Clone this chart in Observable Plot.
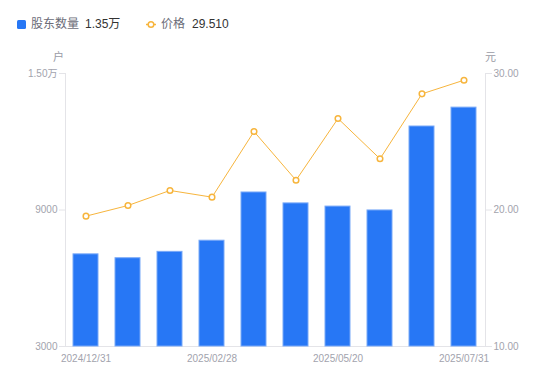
<!DOCTYPE html>
<html>
<head>
<meta charset="utf-8">
<script src="https://cdn.jsdelivr.net/npm/d3@7"></script>
<script src="https://cdn.jsdelivr.net/npm/@observablehq/plot@0.6"></script>
<style>
  html, body { margin: 0; padding: 0; background: #fff; }
  body { width: 550px; height: 381px; overflow: hidden; font-family: 'Liberation Sans', 'Noto Sans CJK SC', sans-serif; }
  #legend { position: relative; height: 40px; width: 550px; font-size: 12px; }
  #legend span { position: absolute; top: 17px; line-height: 15px; white-space: nowrap; }
  .lab { color: #6b6c78; }
  .val { color: #333; }
</style>
</head>
<body>
<div id="legend"></div>
<div id="chart"></div>
<script>
const dates = ["2024/12/31","2025/01/10","2025/01/20","2025/02/28","2025/03/10","2025/03/31","2025/05/20","2025/06/10","2025/06/30","2025/07/31"];
const holders = [7050, 6880, 7160, 7650, 9770, 9290, 9150, 8980, 12670, 13500];
const prices = [19.55, 20.33, 21.43, 20.94, 25.75, 22.18, 26.70, 23.75, 28.51, 29.51];
const leftTicks = [3000, 9000, 15000];
const rightTicks = [10, 20, 30];
const xTicks = ["2024/12/31", "2025/02/28", "2025/05/20", "2025/07/31"];
const seriesNames = ["股东数量", "价格"];
const units = ["户", "元"];

const blue = "#2777f5";
const orange = "#f7b53d";
const axisText = "#a2a3ad";
const axisLine = "#e4e4e8";

// legend
const legend = document.getElementById("legend");
legend.innerHTML = `
  <svg style="position:absolute;left:0;top:0" width="550" height="40">
    <rect x="17" y="20" width="9" height="9" rx="1.5" fill="${blue}"></rect>
    <line x1="146" x2="156" y1="24.5" y2="24.5" stroke="${orange}" stroke-width="1.5"></line>
    <circle cx="151" cy="24.5" r="2.8" fill="white" stroke="${orange}" stroke-width="1.5"></circle>
  </svg>
  <span class="lab" style="left:31px">${seriesNames[0]}</span>
  <span class="val" style="left:85px">${(holders[holders.length-1]/10000).toFixed(2)}万</span>
  <span class="lab" style="left:161px">${seriesNames[1]}</span>
  <span class="val" style="left:192px">${prices[prices.length-1].toFixed(3)}</span>
`;

const data = dates.map((d, i) => ({date: d, holders: holders[i], price: prices[i]}));
const y0 = leftTicks[0], y1 = leftTicks[leftTicks.length-1];
const p0 = rightTicks[0], p1 = rightTicks[rightTicks.length-1];
const toY = p => y0 + (p - p0) * (y1 - y0) / (p1 - p0);
const fromY = v => p0 + (v - y0) * (p1 - p0) / (y1 - y0);

const chart = Plot.plot({
  width: 550,
  height: 341,
  marginTop: 33,
  marginBottom: 35,
  marginLeft: 65,
  marginRight: 65,
  style: {fontFamily: "'Liberation Sans','Noto Sans CJK SC',sans-serif", fontSize: "10px", background: "white", color: axisText},
  x: {domain: dates, paddingInner: 0.4, paddingOuter: 0.2, axis: null},
  y: {domain: [y0, y1], axis: null},
  marks: [
    Plot.frame({anchor: "left", stroke: axisLine}),
    Plot.frame({anchor: "right", stroke: axisLine}),
    Plot.frame({anchor: "bottom", stroke: axisLine}),
    Plot.axisY(leftTicks, {anchor: "left", tickSize: 6, tickPadding: 2, stroke: axisLine, fill: axisText, label: null,
      tickFormat: d => d >= 10000 ? (d / 10000).toFixed(2) + "万" : String(d)}),
    Plot.axisY(rightTicks.map(toY), {anchor: "right", tickSize: 6, tickPadding: 2, stroke: axisLine, fill: axisText, label: null,
      tickFormat: d => fromY(d).toFixed(2)}),
    Plot.axisX(xTicks, {anchor: "bottom", tickSize: 0, tickPadding: 8, fill: axisText, label: null}),
    Plot.barY(data, {x: "date", y1: () => y0, y2: "holders", fill: blue, stroke: "#79a9f8", strokeWidth: 1}),
    Plot.line(data, {x: "date", y: d => toY(d.price), stroke: orange, strokeWidth: 1}),
    Plot.dot(data, {x: "date", y: d => toY(d.price), r: 2.8, fill: "white", stroke: orange, strokeWidth: 1.5}),
    Plot.text([units[0]], {frameAnchor: "top-left", text: d => d, textAnchor: "middle", lineAnchor: "middle", dx: -7, dy: -16, fontSize: 11, fill: "#9a9ba6"}),
    Plot.text([units[1]], {frameAnchor: "top-right", text: d => d, textAnchor: "middle", lineAnchor: "middle", dx: 5, dy: -16, fontSize: 11, fill: "#9a9ba6"})
  ]
});
document.getElementById("chart").appendChild(chart);
</script>
</body>
</html>
